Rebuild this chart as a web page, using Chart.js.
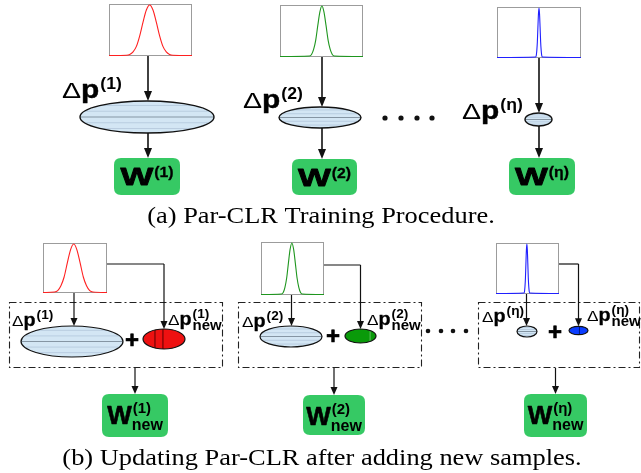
<!DOCTYPE html>
<html><head><meta charset="utf-8">
<script src="https://cdn.jsdelivr.net/npm/chart.js@4.4.1/dist/chart.umd.min.js"></script>
<style>
html,body{margin:0;padding:0;background:#fff;}
#wrap{position:relative;width:641px;height:473px;overflow:hidden;background:#fff;}
#main{position:absolute;left:0;top:0;}
.mini{position:absolute;box-sizing:border-box;border:1px solid #9c9c9c;background:#fff;}
.mini canvas{position:absolute;left:-1px;top:-1px;}
</style></head><body>
<div id="wrap"><canvas id="main" width="641" height="473"></canvas></div>
<script>
// ---------- data: distribution curves (x in % of panel width, y relative density) ----------
const redAX   = [0, 21, 25, 29, 33, 37, 41, 45, 49, 53, 57, 61, 65, 69, 73, 77, 100];
const redAY   = [0, 0.006, 0.02, 0.07, 0.18, 0.39, 0.66, 0.90, 1, 0.90, 0.66, 0.39, 0.18, 0.07, 0.02, 0.006, 0];
const greenAX = [0, 35.5, 38, 40.5, 43, 45.5, 48, 50.5, 53, 55.5, 58, 60.5, 63, 65.5, 100];
const greenAY = [0, 0.01, 0.04, 0.14, 0.32, 0.61, 0.88, 1, 0.88, 0.61, 0.32, 0.14, 0.04, 0.01, 0];
const blueAX  = [0, 46.1, 46.75, 47.4, 48.05, 48.7, 49.35, 50, 50.65, 51.3, 51.95, 52.6, 53.25, 53.9, 100];
const blueAY  = [0, 0.01, 0.04, 0.14, 0.32, 0.61, 0.88, 1, 0.88, 0.61, 0.32, 0.14, 0.04, 0.01, 0];
const redBX   = [0, 18, 23, 28, 33, 38, 43, 48, 53, 58, 63, 68, 73, 78, 100];
const redBY   = [0, 0.011, 0.04, 0.14, 0.32, 0.61, 0.88, 1, 0.88, 0.61, 0.32, 0.14, 0.04, 0.011, 0];
const greenBX = [0, 32.5, 35.25, 38, 40.75, 43.5, 46.25, 49, 51.75, 54.5, 57.25, 60, 62.75, 65.5, 100];
const greenBY = [0, 0.01, 0.04, 0.14, 0.32, 0.61, 0.88, 1, 0.88, 0.61, 0.32, 0.14, 0.04, 0.01, 0];
const blueBX  = [0, 44.5, 45.25, 46, 46.75, 47.5, 48.25, 49, 49.75, 50.5, 51.25, 52, 52.75, 53.5, 100];
const blueBY  = [0, 0.01, 0.04, 0.14, 0.32, 0.61, 0.88, 1, 0.88, 0.61, 0.32, 0.14, 0.04, 0.01, 0];
const componentLabels = ['(1)', '(2)', '(η)'];
const curveColors = ['#ff2020', '#1e961e', '#2020ff'];
const newFills = ['#ee1111', '#0a9a0a', '#0a3cff'];
const newSub = 'new';
const captionA = '(a) Par-CLR Training Procedure.';
const captionB = '(b) Updating Par-CLR after adding new samples.';

// ---------- layout (positions/sizes only) ----------
const miniA = [[109,4,83,52],[280,5,83,52],[497,7,84,51]];
const miniB = [[43,243,64,50],[261,242,63,53],[496,243,63,51]];
const curvesA = [[redAX,redAY],[greenAX,greenAY],[blueAX,blueAY]];
const curvesB = [[redBX,redBY],[greenBX,greenBY],[blueBX,blueBY]];

function miniChart(box, xs, ys, color) {
  const d = document.createElement('div');
  d.className = 'mini';
  d.style.left = box[0] + 'px'; d.style.top = box[1] + 'px';
  d.style.width = box[2] + 'px'; d.style.height = box[3] + 'px';
  const c = document.createElement('canvas');
  c.width = box[2]; c.height = box[3];
  d.appendChild(c);
  document.getElementById('wrap').appendChild(d);
  new Chart(c, {
    type: 'line',
    data: { datasets: [{ data: xs.map((x, i) => ({ x: x, y: ys[i] })), borderColor: color, borderWidth: 1.1,
      pointRadius: 0, cubicInterpolationMode: 'monotone', clip: false, fill: false }] },
    options: { responsive: false, animation: false, events: [],
      layout: { padding: { top: 1, bottom: 0.5, left: 0, right: 0 } },
      plugins: { legend: { display: false }, tooltip: { enabled: false } },
      scales: { x: { type: 'linear', min: 0, max: 100, display: false }, y: { min: 0, max: 1, display: false } } }
  });
}

// ---------- diagram drawing helpers ----------
const SANS = '"Liberation Sans", Arial, sans-serif';
const SERIF = '"Liberation Serif", "Times New Roman", serif';

function txt(ctx, s, x, y, font, sx, align, bold) {
  ctx.save();
  ctx.font = font; ctx.fillStyle = '#000'; ctx.textBaseline = 'alphabetic'; ctx.textAlign = align || 'left';
  ctx.translate(x, y); ctx.scale(sx || 1, 1);
  ctx.fillText(s, 0, 0);
  if (bold) { ctx.lineWidth = bold; ctx.strokeStyle = '#000'; ctx.lineJoin = 'round'; ctx.strokeText(s, 0, 0); }
  const w = ctx.measureText(s).width * (sx || 1);
  ctx.restore();
  return w;
}
function measure(ctx, s, font, sx) { ctx.save(); ctx.font = font; const w = ctx.measureText(s).width * (sx || 1); ctx.restore(); return w; }

function arrow(ctx, x, y1, y2, lw, hl, hw) {
  ctx.save();
  ctx.strokeStyle = '#111'; ctx.fillStyle = '#111'; ctx.lineWidth = lw;
  ctx.beginPath(); ctx.moveTo(x, y1); ctx.lineTo(x, y2 - hl + 1); ctx.stroke();
  ctx.beginPath(); ctx.moveTo(x, y2); ctx.lineTo(x - hw / 2, y2 - hl); ctx.lineTo(x + hw / 2, y2 - hl); ctx.closePath(); ctx.fill();
  ctx.restore();
}
function polyArrow(ctx, pts, lw, hl, hw) {
  ctx.save();
  ctx.strokeStyle = '#111'; ctx.lineWidth = lw;
  ctx.beginPath(); ctx.moveTo(pts[0][0], pts[0][1]);
  for (let i = 1; i < pts.length - 1; i++) ctx.lineTo(pts[i][0], pts[i][1]);
  ctx.stroke(); ctx.restore();
  const a = pts[pts.length - 2], b = pts[pts.length - 1];
  arrow(ctx, b[0], a[1], b[1], lw, hl, hw);
}
function ellipse(ctx, cx, cy, rx, ry, fill, lw, stripes) {
  ctx.save();
  ctx.beginPath(); ctx.ellipse(cx, cy, rx, ry, 0, 0, Math.PI * 2);
  ctx.fillStyle = fill; ctx.fill();
  ctx.save(); ctx.clip();
  stripes.forEach(s => {
    ctx.beginPath(); ctx.strokeStyle = s.c; ctx.lineWidth = s.w;
    if (s.d === 'h') { ctx.moveTo(cx - rx, cy + s.o * ry); ctx.lineTo(cx + rx, cy + s.o * ry); }
    else { ctx.moveTo(cx + s.o * rx, cy - ry); ctx.lineTo(cx + s.o * rx, cy + ry); }
    ctx.stroke();
  });
  ctx.restore();
  ctx.beginPath(); ctx.ellipse(cx, cy, rx, ry, 0, 0, Math.PI * 2);
  ctx.lineWidth = lw; ctx.strokeStyle = '#111'; ctx.stroke();
  ctx.restore();
}
function rrect(ctx, x, y, w, h, r, fill) {
  ctx.save(); ctx.beginPath();
  ctx.moveTo(x + r, y); ctx.lineTo(x + w - r, y); ctx.quadraticCurveTo(x + w, y, x + w, y + r);
  ctx.lineTo(x + w, y + h - r); ctx.quadraticCurveTo(x + w, y + h, x + w - r, y + h);
  ctx.lineTo(x + r, y + h); ctx.quadraticCurveTo(x, y + h, x, y + h - r);
  ctx.lineTo(x, y + r); ctx.quadraticCurveTo(x, y, x + r, y); ctx.closePath();
  ctx.fillStyle = fill; ctx.fill(); ctx.restore();
}
function dashBox(ctx, x, y, w, h) {
  ctx.save(); ctx.setLineDash([7, 3, 2, 3]); ctx.lineWidth = 1.1; ctx.strokeStyle = '#222';
  ctx.strokeRect(x + 0.5, y + 0.5, w, h); ctx.restore();
}
function dots(ctx, xs, y, r) {
  ctx.save(); ctx.fillStyle = '#111';
  xs.forEach(x => { ctx.beginPath(); ctx.arc(x, y, r, 0, Math.PI * 2); ctx.fill(); });
  ctx.restore();
}
// Δp^(k) label, big style (a)
function labelA(ctx, x, y, sup) {
  let w = txt(ctx, 'Δ', x, y, '22px ' + SANS, 1.3);
  w += txt(ctx, 'p', x + w, y, 'bold 26px ' + SANS, 1.15, 'left', 0.4);
  txt(ctx, sup, x + w + 1, y - 9, 'bold 16px ' + SANS, 1.1);
}
// Δp^(k) label small (b)
function labelB(ctx, x, y, sup, sub) {
  let w = txt(ctx, 'Δ', x, y, '15px ' + SANS, 1.15);
  w += txt(ctx, 'p', x + w, y, 'bold 18px ' + SANS, 1.1, 'left', 0.3);
  txt(ctx, sup, x + w + 1, y - 7, 'bold 13px ' + SANS, 1.05);
  if (sub) txt(ctx, sub, x + w + 1, y + 5, 'bold 15px ' + SANS, 1.0);
}
function wBoxA(ctx, box, sup) {
  rrect(ctx, box[0], box[1], box[2], box[3], 7, '#36c964');
  const fW = 'bold 24px ' + SANS, fS = 'bold 15px ' + SANS;
  const tw = measure(ctx, 'W', fW, 1.45) + 1 + measure(ctx, sup, fS, 1.05);
  const x0 = box[0] + box[2] / 2 - tw / 2;
  const w = txt(ctx, 'W', x0, box[1] + 27, fW, 1.45, 'left', 0.8);
  txt(ctx, sup, x0 + w + 1, box[1] + 19, fS, 1.05, 'left', 0.3);
}
function wBoxB(ctx, box, sup) {
  rrect(ctx, box[0], box[1], box[2], box[3], 7, '#36c964');
  const fW = 'bold 26px ' + SANS, fS = 'bold 15px ' + SANS, fN = 'bold 16px ' + SANS;
  const tw = measure(ctx, 'W', fW, 1.0) + Math.max(measure(ctx, sup, fS, 1.0), measure(ctx, newSub, fN, 1.0));
  const x0 = box[0] + box[2] / 2 - tw / 2;
  const w = txt(ctx, 'W', x0, box[1] + 30, fW, 1.0, 'left', 0.6);
  txt(ctx, sup, x0 + w + 1, box[1] + 19, fS, 1.0);
  txt(ctx, newSub, x0 + w, box[1] + 36, fN, 1.0);
}

const blueStripes = [
  { d: 'h', o: -0.72, c: '#b9cde0', w: 1 }, { d: 'h', o: -0.36, c: '#b9cde0', w: 1 },
  { d: 'h', o: 0, c: '#8595a3', w: 1.1 }, { d: 'h', o: 0.36, c: '#b9cde0', w: 1 }, { d: 'h', o: 0.72, c: '#b9cde0', w: 1 }];
const LB = '#d3e6f4';

const diagramPlugin = {
  id: 'diagram',
  afterDraw(chart) {
    const ctx = chart.ctx;
    const sx = chart.scales.x, sy = chart.scales.y;
    const X = v => sx.getPixelForValue(v), Y = v => sy.getPixelForValue(v);
    const R = v => sx.getPixelForValue(v) - sx.getPixelForValue(0);

    // ---------------- (a) ----------------
    const aX = [148, 322, 539];
    const aEll = [[147, 117, 67, 16], [320, 117.5, 41, 10.5], [538.5, 119.5, 13.5, 6.5]];
    const aW = [[114, 158, 66, 37], [292, 159, 65, 36], [509, 158, 66, 37]];
    const aLab = [[62, 98], [243, 108], [462, 119]];
    for (let i = 0; i < 3; i++) {
      const m = miniA[i], e = aEll[i];
      arrow(ctx, X(aX[i]), Y(m[1] + m[3]), Y(e[1] - e[3]), 1.6, 10, 8);
      arrow(ctx, X(aX[i]), Y(e[1] + e[3]), Y(aW[i][1]), 1.6, 10, 8);
      ellipse(ctx, X(e[0]), Y(e[1]), R(e[2]), R(e[3]), LB, 1.4, blueStripes);
      wBoxA(ctx, aW[i].map((v, k) => k % 2 ? Y(v) : X(v)), componentLabels[i]);
      labelA(ctx, X(aLab[i][0]), Y(aLab[i][1]), componentLabels[i]);
    }
    dots(ctx, [385, 401, 417, 432].map(X), Y(118), 2.6);
    txt(ctx, captionA, X(321), Y(223), '24px ' + SERIF, 1.1, 'center');

    // ---------------- (b) ----------------
    const dBox = [[9, 302, 213, 65], [238, 302, 183, 65], [478, 302, 161, 65]];
    const bEll = [[72, 341.5, 51, 15.5], [291, 336.5, 31, 10.5], [527, 331.5, 10, 5.5]];
    const nEll = [[164, 339, 21, 10], [360.5, 336, 15.5, 7], [578.5, 330.5, 9.5, 4.2]];
    const nStr = [
      [{ d: 'v', o: -0.43, c: '#5a0000', w: 1 }, { d: 'v', o: -0.05, c: '#5a0000', w: 1 }],
      [{ d: 'v', o: 0.62, c: '#5fbf5f', w: 1 }],
      [{ d: 'v', o: 0.1, c: '#001a80', w: 1 }]];
    const plusX = [[132, 340], [333, 336], [555, 332]];
    const bW = [[102, 394, 66, 43], [303, 395, 62, 40], [524, 394, 63, 43]];
    const bLab = [[12, 326], [242, 327], [482, 322]];
    const nLab = [[168, 325], [367, 325], [587, 321]];
    const connY = [264, 265, 264];
    for (let i = 0; i < 3; i++) {
      const m = miniB[i], e = bEll[i], n = nEll[i], db = dBox[i];
      dashBox(ctx, X(db[0]), Y(db[1]), R(db[2]), R(db[3]));
      const cx = m[0] + m[2] / 2 - 1;
      arrow(ctx, X(cx), Y(m[1] + m[3]), Y(e[1] - e[3]), 1.2, 8, 7);
      polyArrow(ctx, [[X(m[0] + m[2]), Y(connY[i])], [X(n[0]), Y(connY[i])], [X(n[0]), Y(n[1] - n[3])]], 1.2, 8, 7);
      ellipse(ctx, X(e[0]), Y(e[1]), R(e[2]), R(e[3]), LB, 1.2, blueStripes);
      ellipse(ctx, X(n[0]), Y(n[1]), R(n[2]), R(n[3]), newFills[i], 1.2, nStr[i]);
      txt(ctx, '+', X(plusX[i][0]), Y(plusX[i][1] + 8), 'bold 24px ' + SANS, 1, 'center', 0.6);
      arrow(ctx, X(bW[i][0] + bW[i][2] / 2), Y(db[1] + db[3] + 1), Y(bW[i][1]), 1.2, 8, 7);
      wBoxB(ctx, bW[i].map((v, k) => k % 2 ? Y(v) : X(v)), componentLabels[i]);
      labelB(ctx, X(bLab[i][0]), Y(bLab[i][1]), componentLabels[i]);
      labelB(ctx, X(nLab[i][0]), Y(nLab[i][1]), componentLabels[i], newSub);
    }
    dots(ctx, [428, 441, 453, 466].map(X), Y(331), 2.3);
    txt(ctx, captionB, X(322), Y(465), '24px ' + SERIF, 1.1, 'center');
  }
};

new Chart(document.getElementById('main'), {
  type: 'scatter',
  data: { datasets: [] },
  options: { responsive: false, animation: false, events: [],
    layout: { padding: 0 },
    plugins: { legend: { display: false }, tooltip: { enabled: false } },
    scales: { x: { type: 'linear', min: 0, max: 641, display: false },
              y: { type: 'linear', min: 0, max: 473, reverse: true, display: false } } },
  plugins: [diagramPlugin]
});

for (let i = 0; i < 3; i++) {
  miniChart(miniA[i], curvesA[i][0], curvesA[i][1], curveColors[i]);
  miniChart(miniB[i], curvesB[i][0], curvesB[i][1], curveColors[i]);
}
</script>
</body></html>
